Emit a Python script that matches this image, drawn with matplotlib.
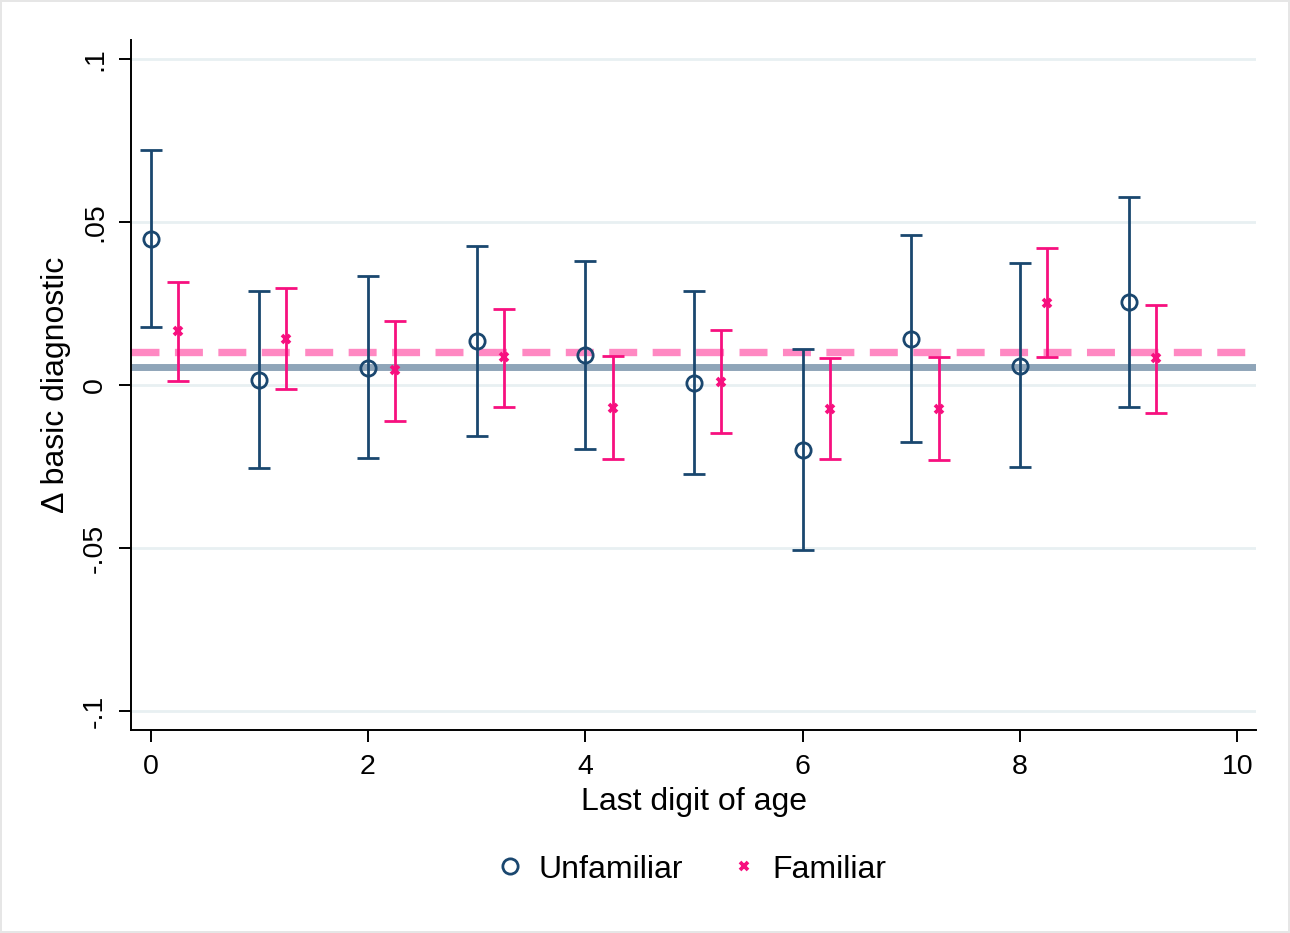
import matplotlib.pyplot as plt
import numpy as np
from matplotlib.lines import Line2D

plt.rcParams['font.family'] = ['Liberation Sans', 'DejaVu Sans']

digits = np.arange(10)

# unfamiliar: estimate and 95% CI
unf_b = [0.0448, 0.0015, 0.0052, 0.0135, 0.0092, 0.0006, -0.0199, 0.0141, 0.0058, 0.0255]
unf_hi = [0.0721, 0.0288, 0.0334, 0.0426, 0.0380, 0.0288, 0.0110, 0.0460, 0.0374, 0.0577]
unf_lo = [0.0178, -0.0255, -0.0224, -0.0156, -0.0196, -0.0273, -0.0506, -0.0175, -0.0252, -0.0067]

# familiar: estimate and 95% CI
fam_b = [0.0166, 0.0141, 0.0046, 0.0086, -0.0071, 0.0009, -0.0074, -0.0074, 0.0252, 0.0083]
fam_hi = [0.0316, 0.0298, 0.0196, 0.0233, 0.0089, 0.0169, 0.0083, 0.0086, 0.0420, 0.0245]
fam_lo = [0.0012, -0.0012, -0.0110, -0.0067, -0.0227, -0.0147, -0.0227, -0.0230, 0.0086, -0.0086]

unf_mean = 0.0054
fam_mean = 0.0102

navy = '#1a476f'
pink = '#f7107f'

fig = plt.figure(figsize=(12.9, 9.33), dpi=100)
fig.patch.set_edgecolor('#e6e6e6')
fig.patch.set_linewidth(1.5)
ax = fig.add_axes([0.1016, 0.2176, 0.872, 0.7394])

for yv in [-0.1, -0.05, 0, 0.05, 0.1]:
    ax.axhline(yv, color='#e8f0f2', lw=2, zorder=0)

ax.axhline(unf_mean, color='#8fa5b9', lw=5, zorder=1)
ax.axhline(fam_mean, color='#ff88c2', lw=5.3, dashes=(3.8, 2.1), zorder=1)

ub = np.array(unf_b)
fb = np.array(fam_b)
ax.errorbar(digits, ub, yerr=[ub - np.array(unf_lo), np.array(unf_hi) - ub],
            fmt='none', ecolor=navy, elinewidth=2, capsize=8, capthick=2, zorder=3)
ax.plot(digits, ub, 'o', mfc='none', mec=navy, ms=11, mew=2, zorder=4)

xf = digits + 0.25
ax.errorbar(xf, fb, yerr=[fb - np.array(fam_lo), np.array(fam_hi) - fb],
            fmt='none', ecolor=pink, elinewidth=2, capsize=8, capthick=2, zorder=3)
ax.plot(xf, fb, 'x', color=pink, ms=5.5, mew=2.7, zorder=4)

ax.set_xlim(-0.18, 10.17)
ax.set_ylim(-0.1058, 0.1058)
ax.set_xticks([0, 2, 4, 6, 8, 10])
ax.set_yticks([-0.1, -0.05, 0, 0.05, 0.1])
ax.set_yticklabels(['-.1', '-.05', '0', '.05', '.1'], rotation=90, va='center')
ax.tick_params(axis='both', labelsize=20.5, length=8.5, width=1.4, direction='out')
ax.tick_params(axis='x', pad=9)
ax.tick_params(axis='y', pad=8)
ax.spines['top'].set_visible(False)
ax.spines['right'].set_visible(False)
ax.spines['left'].set_linewidth(1.4)
ax.spines['bottom'].set_linewidth(1.4)

ax.set_xlabel('Last digit of age', fontsize=23, labelpad=5)
ax.set_ylabel('Δ basic diagnostic', fontsize=23, labelpad=8)

handles = [Line2D([], [], ls='none', marker='o', mfc='none', mec=navy, ms=11, mew=2),
           Line2D([], [], ls='none', marker='x', color=pink, ms=5.5, mew=2.7)]
fig.legend(handles, ['Unfamiliar', 'Familiar'], loc='center', bbox_to_anchor=(0.534, 0.068),
           ncol=2, frameon=False, fontsize=23, handletextpad=0.3, columnspacing=1.3,
           handlelength=1.2)

fig.savefig('out.png', dpi=100)
